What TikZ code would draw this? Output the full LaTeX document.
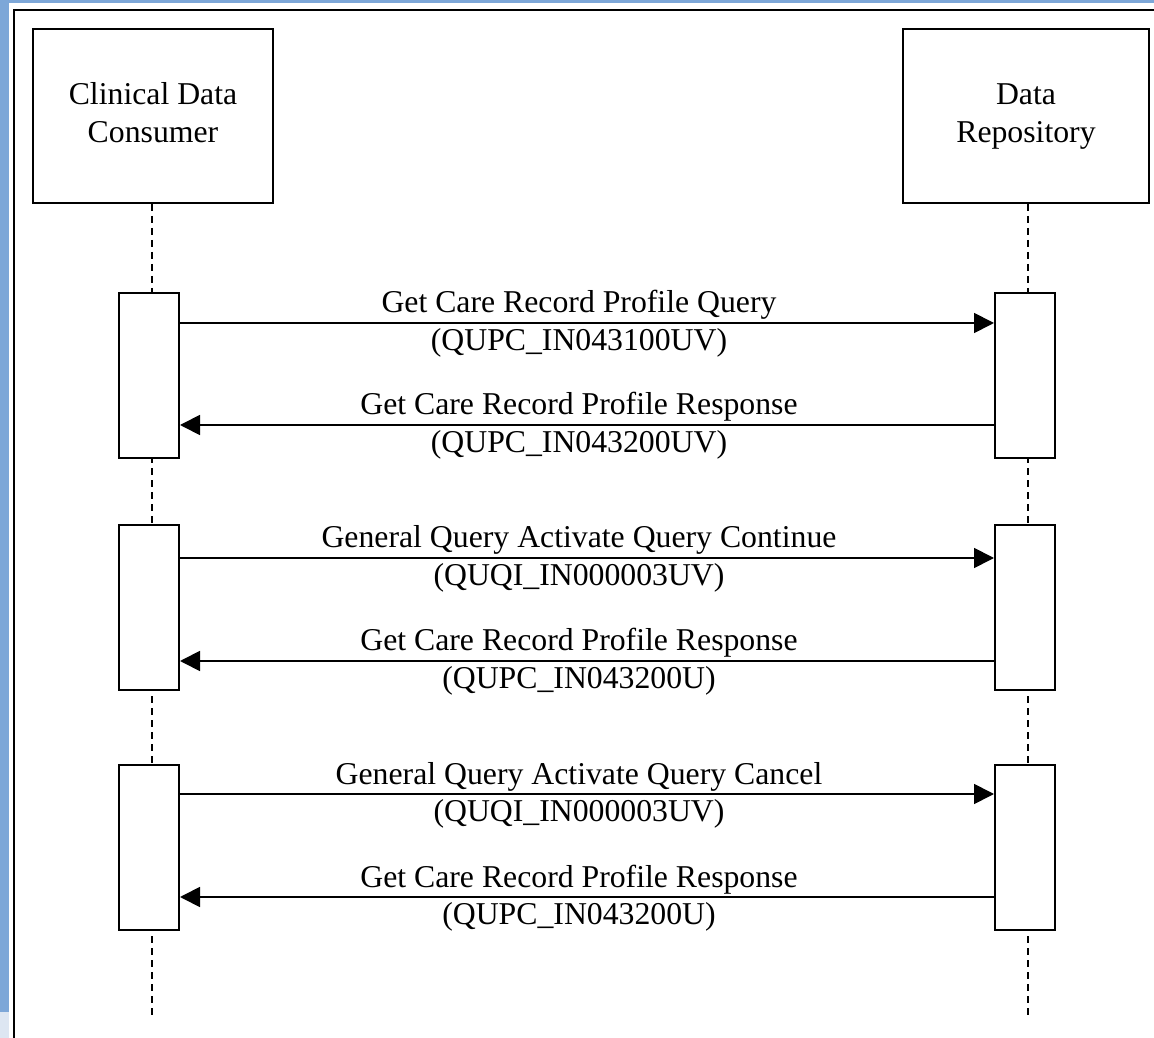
\documentclass[tikz,border=0pt]{standalone}
\usepackage{fontspec}
\setmainfont{Liberation Serif}
\usetikzlibrary{arrows.meta}
\definecolor{frameblue}{HTML}{7DA7D8}
\definecolor{paleblue}{HTML}{DDE6F2}
\begin{document}
\begin{tikzpicture}[x=0.4pt,y=-0.4pt]
  \useasboundingbox (0,0) rectangle (1154,1038);
  \tikzset{ActorStyle/.style = {draw,
                                 line width     = 0.8pt,
                                 align          = center,
                                 inner sep      = 0pt,
                                 minimum width  = 96pt,
                                 minimum height = 69.6pt,
                                 font           = \fontsize{12.7}{15.2}\selectfont}}

  \tikzset{ActiveStyle/.style = {draw,
                                 fill           = white,
                                 line width     = 0.8pt,
                                 inner sep      = 0pt,
                                 minimum width  = 24pt,
                                 minimum height = 66pt}}

  \tikzset{LifeStyle/.style   = {line width=0.8pt, dash pattern=on 2.8pt off 2pt}}
  \tikzset{MsgStyle/.style    = {line width=0.7pt, -{Triangle[length=8pt,width=8pt]}}}
  \tikzset{LabelStyle/.style  = {anchor=base, inner sep=0pt,
                                 font=\fontsize{12.7}{15.2}\selectfont}}

  % page background
  \fill[frameblue] (0,0) rectangle (1154,1038);
  \fill[paleblue] (0,1012) rectangle (9,1038);
  \fill[white] (9,3.5) rectangle (1154,1038);
  \draw[line width=0.8pt] (14,1038) -- (14,10) -- (1154,10);

     \node[ActorStyle] (CDC) at (153,116) {Clinical Data\strut\\Consumer\strut};
     \node[ActorStyle,minimum width=98.6pt] (DR) at (1026,116) {Data\strut\\Repository\strut};
     \coordinate (CDC_end) at (151.5,1020);
     \coordinate (DR_end) at (1027.5,1020);

     \draw[LifeStyle] (CDC.south -| CDC_end) -- (CDC_end);
     \draw[LifeStyle] (DR.south -| DR_end) -- (DR_end);

     \node[ActiveStyle] (L_1) at (149,375.5) {};
     \node[ActiveStyle] (R_1) at (1025,375.5) {};
     \node[ActiveStyle] (L_2) at (149,607.5) {};
     \node[ActiveStyle] (R_2) at (1025,607.5) {};
     \node[ActiveStyle] (L_3) at (149,847.5) {};
     \node[ActiveStyle] (R_3) at (1025,847.5) {};

     \coordinate (m_1) at (579,323);
     \coordinate (m_2) at (579,425);
     \coordinate (m_3) at (579,558);
     \coordinate (m_4) at (579,661);
     \coordinate (m_5) at (579,794);
     \coordinate (m_6) at (579,897);

     \draw[MsgStyle] (L_1.east |- m_1) -- (R_1.west |- m_1);
     \draw[MsgStyle] (R_1.west |- m_2) -- (L_1.east |- m_2);
     \draw[MsgStyle] (L_2.east |- m_3) -- (R_2.west |- m_3);
     \draw[MsgStyle] (R_2.west |- m_4) -- (L_2.east |- m_4);
     \draw[MsgStyle] (L_3.east |- m_5) -- (R_3.west |- m_5);
     \draw[MsgStyle] (R_3.west |- m_6) -- (L_3.east |- m_6);

     \node[LabelStyle] (t_1) at ([yshift=4pt]m_1) {Get Care Record Profile Query};
     \node[LabelStyle] (c_1) at ([yshift=-11pt]m_1) {(QUPC\_IN043100UV)};
     \node[LabelStyle] (t_2) at ([yshift=4pt]m_2) {Get Care Record Profile Response};
     \node[LabelStyle] (c_2) at ([yshift=-11pt]m_2) {(QUPC\_IN043200UV)};
     \node[LabelStyle] (t_3) at ([yshift=4pt]m_3) {General Query Activate Query Continue};
     \node[LabelStyle] (c_3) at ([yshift=-11pt]m_3) {(QUQI\_IN000003UV)};
     \node[LabelStyle] (t_4) at ([yshift=4pt]m_4) {Get Care Record Profile Response};
     \node[LabelStyle] (c_4) at ([yshift=-11pt]m_4) {(QUPC\_IN043200U)};
     \node[LabelStyle] (t_5) at ([yshift=4pt]m_5) {General Query Activate Query Cancel};
     \node[LabelStyle] (c_5) at ([yshift=-11pt]m_5) {(QUQI\_IN000003UV)};
     \node[LabelStyle] (t_6) at ([yshift=4pt]m_6) {Get Care Record Profile Response};
     \node[LabelStyle] (c_6) at ([yshift=-11pt]m_6) {(QUPC\_IN043200U)};

  \end{tikzpicture}
\end{document}
